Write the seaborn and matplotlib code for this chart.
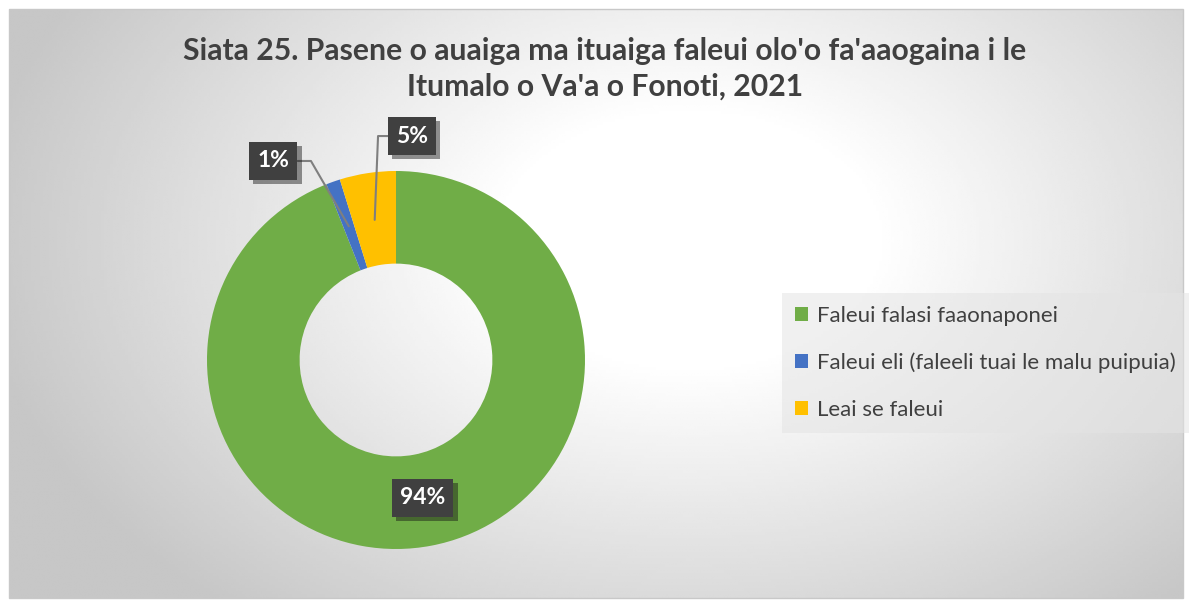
import numpy as np
import matplotlib
matplotlib.use("Agg")
import matplotlib.pyplot as plt
import matplotlib.patheffects as pe
from matplotlib.patches import Rectangle
import seaborn as sns

# data
categories = ["Faleui falasi faaonaponei",
              "Faleui eli (faleeli tuai le malu puipuia)",
              "Leai se faleui"]
shares = [94.0, 1.2, 4.8]
colors = ["#70AD47", "#4472C4", "#FFC000"]
title = "Siata 25. Pasene o auaiga ma ituaiga faleui olo'o fa'aaogaina i le\nItumalo o Va'a o Fonoti, 2021"

# label box positions (in pie data units) and leader elbow points
label_pos = [(0.14, -0.73), (-0.65, 1.053), (0.085, 1.185)]
elbows = [None, (-0.45, 1.053), (-0.095, 1.185)]

sns.set_theme(style="white")
plt.rcParams["font.family"] = ["Lato", "DejaVu Sans"]

W, H = 1190, 605
fig = plt.figure(figsize=(W / 100, H / 100), dpi=100)
fig.patch.set_facecolor("white")

# background gradient of chart area
bg = fig.add_axes([0, 0, 1, 1])
bg.set_xlim(0, W)
bg.set_ylim(H, 0)
bg.axis("off")
x0, y0, x1, y1 = 9, 9, 1183, 598
xx, yy = np.meshgrid(np.linspace(x0, x1, 400), np.linspace(y0, y1, 200))
u = (xx - 690) / 620
v = (yy - 240) / 420
r = np.sqrt(u ** 2 + v ** 2)
val = 1.0 - np.clip((r - 0.3) / 0.85, 0, 1) * 0.22
bg.imshow(val, cmap="gray", vmin=0, vmax=1, extent=(x0, x1, y1, y0),
          aspect="auto", interpolation="bilinear")
bg.add_patch(Rectangle((x0, y0), x1 - x0, y1 - y0, fill=False,
                       edgecolor="#c8c8c8", linewidth=1))

fig.text(605 / W, 1 - 69 / H, title, ha="center", va="center",
         fontsize=21.7, fontweight="bold", color="#404040", linespacing=1.35)

# donut
ax = fig.add_axes([(396 - 189) / W, (605 - 549) / H, 378 / W, 378 / H])
ax.set_aspect("equal")
wedges, _ = ax.pie(shares, colors=colors, startangle=90, counterclock=False,
                   radius=1.0, wedgeprops=dict(width=0.49, linewidth=0))
ax.set_xlim(-1, 1)
ax.set_ylim(-1, 1)

for w, val_, (lx, ly), elbow in zip(wedges, shares, label_pos, elbows):
    t = ax.text(lx, ly, f"{round(val_):d}%", ha="center", va="center",
                fontsize=16.5, fontweight="bold", color="white",
                bbox=dict(boxstyle="square,pad=0.36", facecolor="#404040",
                          edgecolor="none"), zorder=5)
    t.get_bbox_patch().set_path_effects(
        [pe.SimplePatchShadow(offset=(3, -3), alpha=0.45), pe.Normal()])
    if elbow is not None:
        mid = np.deg2rad((w.theta1 + w.theta2) / 2)
        px, py = 0.75 * np.cos(mid), 0.75 * np.sin(mid)
        edge_x = lx + (0.13 if elbow[0] > lx else -0.12)
        ax.plot([edge_x, elbow[0], px], [ly, elbow[1], py],
                color="#7f7f7f", linewidth=1.5, zorder=4, clip_on=False)

leg = fig.legend(wedges, categories, loc="upper left",
                 bbox_to_anchor=(782 / W, 1 - 293 / H),
                 frameon=True, fontsize=16, labelcolor="#404040",
                 handlelength=0.6, handleheight=0.6, handletextpad=0.4,
                 labelspacing=1.2, borderpad=0.58, borderaxespad=0,
                 fancybox=False)
frame = leg.get_frame()
frame.set_facecolor("#e4e4e4")
frame.set_alpha(0.55)
frame.set_edgecolor("none")

fig.savefig("out.png", dpi=100)
